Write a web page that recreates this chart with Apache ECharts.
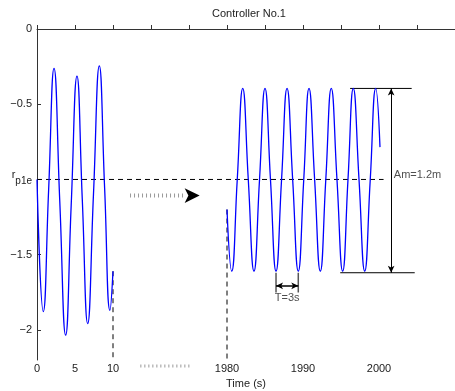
<!DOCTYPE html>
<html>
<head>
<meta charset="utf-8">
<script src="https://cdn.jsdelivr.net/npm/echarts@6/dist/echarts.min.js"></script>
<style>html,body{margin:0;padding:0;background:#fff}#c{width:455px;height:391px}</style>
</head>
<body>
<div id="c"></div>
<script>
// ---- data ----
const t1 = [0, 0.83, 1.53, 2.24, 3.0, 3.77, 4.5, 5.26, 5.96, 6.67, 7.43, 8.2, 8.9, 9.6, 10.0];
const r1 = [-1.0, -1.878, -1.07, -0.262, -1.15, -2.035, -1.17, -0.313, -1.135, -1.958, -1.10, -0.245, -1.06, -1.87, -1.61];
const t2 = [1980.0, 1980.62, 1981.35, 1982.07, 1982.8, 1983.55, 1984.28, 1985.0, 1985.72, 1986.45,
            1987.18, 1987.9, 1988.64, 1989.38, 1990.1, 1990.79, 1991.53, 1992.28, 1993.0, 1993.72,
            1994.47, 1995.22, 1995.92, 1996.62, 1997.37, 1998.12, 1998.85, 1999.57, 2000.13];
const r2 = [-1.2, -1.61, -1.0, -0.395, -1.0, -1.61, -1.0, -0.395, -1.0, -1.61,
            -1.0, -0.395, -1.0, -1.61, -1.0, -0.395, -1.0, -1.61, -1.0, -0.395,
            -1.0, -1.61, -1.0, -0.395, -1.0, -1.61, -1.0, -0.395, -0.785];
const xTickTimes = [0, 5, 10, 15, 20, 1980, 1985, 1990, 1995, 2000, 2005];
const xLabelTimes = [0, 5, 10, 1980, 1990, 2000];
const yTicks = [0, -0.5, -1, -1.5, -2];
const refLevel = -1.0;          // r_p1e
const refEnd = 2000.6;
const cut1 = {t: 10, top: -1.61};
const cut2 = {t: 1980, top: -1.2};
const amTop = {y: -0.395, from: 1996.2, to: 2004.3};
const amBot = {y: -1.62, from: 1994.9, to: 2004.7};
const amX = 2001.6;
const tPeriod = {a: 1986.45, b: 1989.38, top: -1.62, bottom: -1.751, arrowY: -1.707, textY: -1.79};
const moveArrow = {from: 12.24, to: 19.6, head: 21.4, y: -1.107};
const breakMarks = {from: 13.6, to: 20.2, y: -2.24};
const yMin = -2.2, yMax = 0;

// broken time axis: first segment as-is, second segment shifted
const OFFSET = 1955;
const u = t => (t <= 100 ? t : t - OFFSET);
const inv = v => (v <= 10 ? v : v + OFFSET);
const minus = v => (v < 0 ? '\u2212' + String(-v) : String(v));

const blue = '#0000ff';
const dash = [5, 4];
const lineS = (data, color, width, type, extra) => Object.assign({
  type: 'line', data, showSymbol: false, symbol: 'none', silent: true, animation: false,
  lineStyle: {color, width, type}
}, extra || {});

const chart = echarts.init(document.getElementById('c'), null, {renderer: 'canvas'});
chart.setOption({
  animation: false,
  backgroundColor: '#fff',
  title: {text: 'Controller No.1', left: 212, top: 8, padding: 0,
    textStyle: {fontFamily: 'Liberation Sans', fontSize: 11, fontWeight: 'normal', color: '#222'}},
  grid: {left: 37, right: 0, top: 29, bottom: 31, containLabel: false, outerBoundsMode: 'none'},
  xAxis: {
    type: 'value', min: 0, max: 55,
    name: 'Time (s)', nameLocation: 'middle', nameGap: 16,
    nameTextStyle: {fontFamily: 'Liberation Sans', fontSize: 11, color: '#222'},
    axisLine: {lineStyle: {color: '#333', width: 1}},
    axisTick: {inside: true, length: 4, customValues: xTickTimes.map(u), lineStyle: {color: '#333'}},
    axisLabel: {customValues: xLabelTimes.map(u), formatter: v => String(Math.round(inv(v))),
      fontFamily: 'Liberation Sans', fontSize: 11, color: '#222', margin: 3},
    splitLine: {show: false}
  },
  yAxis: {
    type: 'value', min: yMin, max: yMax,
    name: "r'", nameLocation: 'middle', nameGap: 28, nameRotate: 90,
    nameTextStyle: {fontFamily: 'Liberation Sans', fontSize: 7, color: '#444'},
    axisLine: {show: true, lineStyle: {color: '#333', width: 1}},
    axisTick: {show: true, inside: true, length: 4, customValues: yTicks, lineStyle: {color: '#333'}},
    axisLabel: {customValues: yTicks, margin: 5,
      formatter: v => (Math.abs(v - refLevel) < 1e-9 ? '{r|r}{s|p1e}' : minus(v)),
      fontFamily: 'Liberation Sans', fontSize: 11, color: '#222',
      rich: {
        r: {fontFamily: 'Liberation Sans', fontSize: 11, color: '#222', padding: [0, 0, 9, 0]},
        s: {fontFamily: 'Liberation Sans', fontSize: 10, color: '#222', padding: [4, 0, 0, 0]}
      }},
    splitLine: {show: false}
  },
  series: [
    lineS(t1.map((t, i) => [u(t), r1[i]]), blue, 1.3, 'solid', {smooth: true, z: 5}),
    lineS(t2.map((t, i) => [u(t), r2[i]]), blue, 1.3, 'solid', {smooth: true, z: 5}),
    lineS([[0, refLevel], [u(refEnd), refLevel]], '#000', 1, dash),
    lineS([[u(cut1.t), cut1.top], [u(cut1.t), yMin]], '#000', 1, dash),
    lineS([[u(cut2.t), cut2.top], [u(cut2.t), yMin]], '#000', 1, dash),
    lineS([[u(amTop.from), amTop.y], [u(amTop.to), amTop.y]], '#000', 1, 'solid'),
    lineS([[u(amBot.from), amBot.y], [u(amBot.to), amBot.y]], '#000', 1, 'solid'),
    lineS([[u(tPeriod.a), tPeriod.top], [u(tPeriod.a), tPeriod.bottom]], '#555', 1.5, 'solid'),
    lineS([[u(tPeriod.b), tPeriod.top], [u(tPeriod.b), tPeriod.bottom]], '#555', 1.5, 'solid'),
    lineS([[moveArrow.from, moveArrow.y], [moveArrow.to, moveArrow.y]], '#999', 4, [1, 3]),
    lineS([[breakMarks.from, breakMarks.y], [breakMarks.to, breakMarks.y]], '#999', 3, [1, 3], {clip: false}),
    {
      type: 'line', data: [], silent: true, animation: false,
      markLine: {
        silent: true, animation: false, label: {show: false},
        lineStyle: {color: '#000', width: 1, type: 'solid'},
        symbol: ['arrow', 'arrow'], symbolSize: [5, 7],
        data: [
          [{coord: [u(amX), amTop.y]}, {coord: [u(amX), amBot.y]}],
          [{coord: [u(tPeriod.a), tPeriod.arrowY], lineStyle: {width: 1.5}}, {coord: [u(tPeriod.b), tPeriod.arrowY]}]
        ]
      },
      markPoint: {
        silent: true, animation: false,
        data: [{coord: [moveArrow.head, moveArrow.y], symbol: 'arrow', symbolRotate: -90, symbolSize: [11, 15],
          itemStyle: {color: '#000'}, label: {show: false}}]
      }
    },
    {
      type: 'scatter', silent: true, animation: false, symbolSize: 0,
      data: [
        {value: [u(amX) + 0.35, -0.973], label: {show: true, position: 'right', distance: 0, formatter: 'Am=1.2m'}},
        {value: [(u(tPeriod.a) + u(tPeriod.b)) / 2, tPeriod.textY], label: {show: true, position: 'inside', formatter: 'T=3s'}}
      ],
      label: {fontFamily: 'Liberation Sans', fontSize: 11, color: '#222'}
    }
  ]
});
</script>
</body>
</html>
